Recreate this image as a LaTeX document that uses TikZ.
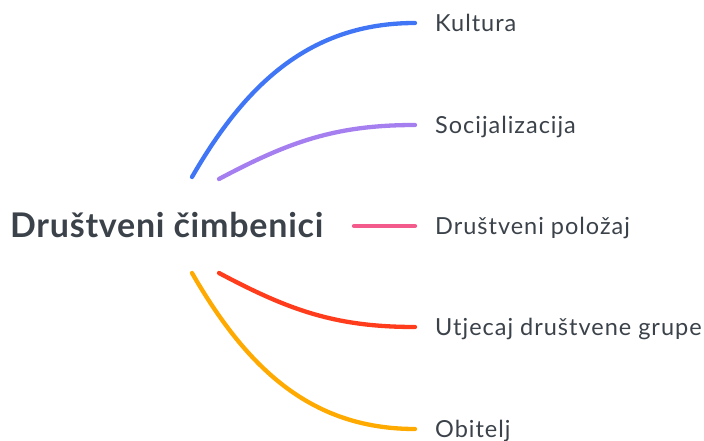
\documentclass[tikz,border=0pt]{standalone}
\usepackage{fontspec}
\setmainfont{Lato}
\newfontfamily\leaffont[LetterSpace=4.2]{Lato}
\newfontfamily\rootfont[LetterSpace=2.2]{Lato Bold}
\usetikzlibrary{positioning}

\definecolor{txtgray}{HTML}{3B424A}
\definecolor{brblue}{HTML}{4076F6}
\definecolor{brpurple}{HTML}{A57EF0}
\definecolor{brpink}{HTML}{F45B8D}
\definecolor{brred}{HTML}{FF3C1C}
\definecolor{brorange}{HTML}{FFAA00}

\tikzset{
  branch/.style={line width=4.3pt, line cap=round},
  leaf/.style={font=\leaffont\fontsize{23.5}{27}\selectfont, text=txtgray, inner sep=0pt,
               text height=16.8pt, text depth=0pt, anchor=west},
  rootlbl/.style={font=\rootfont\fontsize{34}{39}\selectfont, text=txtgray, inner sep=0pt,
               text height=24.4pt, text depth=0pt, anchor=west}
}

\begin{document}
\begin{tikzpicture}[x=1pt, y=-1pt, node distance=20pt]
    \useasboundingbox (0,0) rectangle (704,441); % Рамка картинки

    % Центральный узел
    \node[rootlbl] (root) at (10,225) {Društveni čimbenici};

    % Начала ветвей
    \coordinate (sBlue) at (192,177);
    \coordinate (sPurple) at (219,179);
    \coordinate (sPink) at (354,226);
    \coordinate (sRed) at (219,273);
    \coordinate (sOrange) at (192,273);

    % Концы ветвей и подписи
    \foreach \nm/\y/\txt in {kul/23/Kultura, soc/125/Socijalizacija, pol/226/Društveni položaj,
                             grp/327/Utjecaj društvene grupe, obi/429/Obitelj} {
        \coordinate (\nm) at (415,\y);
        \node[leaf, right=of \nm] (\nm-lbl) {\txt};
    }

    % Ветви
    \draw[branch, brblue] (sBlue) to[out=60, in=180] (kul);
    \draw[branch, brpurple] (sPurple) to[out=28, in=180] (soc);
    \draw[branch, brpink] (sPink) -- (pol);
    \draw[branch, brred] (sRed) to[out=-28, in=180] (grp);
    \draw[branch, brorange] (sOrange) to[out=-60, in=180] (obi);
\end{tikzpicture}
\end{document}
